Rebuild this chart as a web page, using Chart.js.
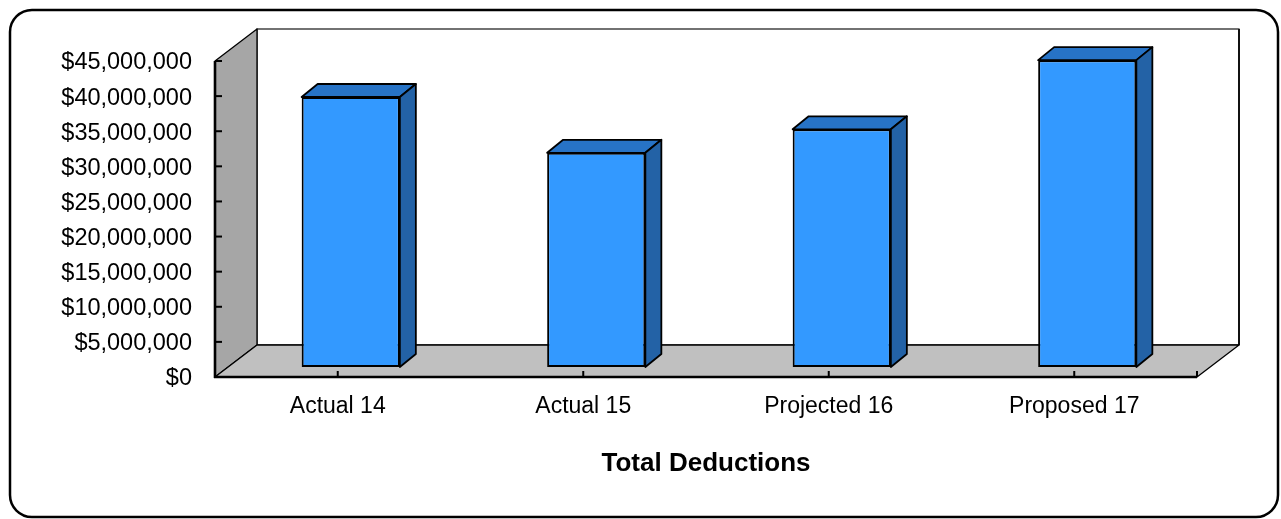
<!DOCTYPE html>
<html>
<head>
<meta charset="utf-8">
<title>Total Deductions</title>
<script src="https://cdn.jsdelivr.net/npm/chart.js"></script>
<style>
  html, body { margin: 0; padding: 0; background: #fff; }
  #wrap { width: 1281px; height: 519px; position: relative; }
</style>
</head>
<body>
<div id="wrap"><canvas id="graphicDeductions"></canvas></div>
<script>
// Datos del grafico
const categories = ["Actual 14", "Actual 15", "Projected 16", "Proposed 17"];
const deductions = [38450000, 30500000, 33850000, 43700000];
const yMax = 45000000;
const yStep = 5000000;

// 3D look: wall depth, bar offset from the front plane, bar depth
const wallDepth = { x: 42, y: 32 };
const barShift = { x: 13, y: 10 };
const barDepth = { x: 16, y: 13 };

const barFront = "#3399ff";
const barTop = "#2773c6";
const barSide = "#2362a6";

function polygon(ctx, pts, fill, stroke, width) {
  ctx.beginPath();
  ctx.moveTo(pts[0][0], pts[0][1]);
  for (let i = 1; i < pts.length; i++) ctx.lineTo(pts[i][0], pts[i][1]);
  ctx.closePath();
  if (fill) {
    ctx.fillStyle = fill;
    ctx.fill();
  }
  if (stroke) {
    ctx.strokeStyle = stroke;
    ctx.lineWidth = width;
    ctx.stroke();
  }
}

function line(ctx, x1, y1, x2, y2, width, color = "#000") {
  ctx.beginPath();
  ctx.moveTo(x1, y1);
  ctx.lineTo(x2, y2);
  ctx.strokeStyle = color;
  ctx.lineWidth = width;
  ctx.stroke();
}

const box3d = {
  id: "box3d",
  beforeDraw(chart) {
    const ctx = chart.ctx;
    // marco redondeado
    ctx.save();
    ctx.strokeStyle = "#000";
    ctx.lineWidth = 2.5;
    ctx.beginPath();
    ctx.roundRect(10, 10, 1268, 507, 22);
    ctx.stroke();
    ctx.restore();
  },
  beforeDatasetsDraw(chart) {
    const { ctx, chartArea: a, scales } = chart;
    const dx = wallDepth.x;
    const dy = wallDepth.y;
    ctx.save();
    ctx.lineJoin = "round";
    // back wall
    polygon(ctx, [[a.left + dx, a.top - dy], [a.right + dx, a.top - dy], [a.right + dx, a.bottom - dy], [a.left + dx, a.bottom - dy]], "#fff", "#444", 1.5);
    line(ctx, a.right + dx, a.top - dy, a.right + dx, a.bottom - dy, 2, "#111");
    // left wall
    polygon(ctx, [[a.left, a.top], [a.left + dx, a.top - dy], [a.left + dx, a.bottom - dy], [a.left, a.bottom]], "#a6a6a6", "#000", 1.3);
    // floor
    polygon(ctx, [[a.left, a.bottom], [a.left + dx, a.bottom - dy], [a.right + dx, a.bottom - dy], [a.right, a.bottom]], "#c0c0c0", "#000", 1.3);
    // front axes
    line(ctx, a.left, a.top, a.left, a.bottom + 1, 2.6);
    line(ctx, a.left - 1, a.bottom, a.right, a.bottom, 2.6);
    scales.y.ticks.forEach((t) => {
      const y = scales.y.getPixelForValue(t.value);
      line(ctx, a.left, y, a.left + 7, y, 2);
    });
    categories.forEach((c, i) => {
      const x = scales.x.getPixelForValue(i);
      line(ctx, x, a.bottom, x, a.bottom - 6, 2);
    });
    line(ctx, a.right, a.bottom, a.right, a.bottom - 6, 2);
    ctx.restore();

    // las barras se dibujan un poco hacia el fondo
    ctx.save();
    ctx.translate(barShift.x, -barShift.y);
  },
  afterDatasetsDraw(chart) {
    const ctx = chart.ctx;
    const bx = barDepth.x;
    const by = barDepth.y;
    ctx.lineJoin = "round";
    chart.getDatasetMeta(0).data.forEach((bar) => {
      const l = bar.x - bar.width / 2;
      const r = bar.x + bar.width / 2;
      const t = bar.y;
      const b = bar.base;
      polygon(ctx, [[l, t], [l + bx, t - by], [r + bx, t - by], [r, t]], barTop, "#000", 1.8);
      polygon(ctx, [[r, t], [r + bx, t - by], [r + bx, b - by], [r, b]], barSide, "#000", 1.8);
    });
    ctx.restore();
  },
};

function getGraphicDeductions() {
  Chart.defaults.font.family = "'Liberation Sans', Arial, sans-serif";
  Chart.defaults.color = "#000";
  const chrt = document.getElementById("graphicDeductions").getContext("2d");
  new Chart(chrt, {
    type: "bar",
    data: {
      labels: categories,
      datasets: [
        {
          label: "Total Deductions",
          data: deductions,
          backgroundColor: barFront,
          borderColor: "#000",
          borderWidth: 2,
          borderSkipped: false,
          barPercentage: 0.4,
          categoryPercentage: 1,
          clip: false,
        },
      ],
    },
    options: {
      responsive: true,
      maintainAspectRatio: false,
      animation: false,
      devicePixelRatio: 1,
      layout: {
        padding: { top: 61, right: 84, left: 0, bottom: 0 },
      },
      scales: {
        x: {
          grid: { display: false, drawTicks: false },
          border: { display: false },
          ticks: {
            font: { size: 23 },
            padding: 16,
            maxRotation: 0,
          },
          title: {
            display: true,
            text: "Total Deductions",
            font: { size: 26, weight: "bold" },
            padding: { top: 0, bottom: 40 },
          },
          afterFit(scale) {
            scale.height = 519 - 377;
          },
        },
        y: {
          min: 0,
          max: yMax,
          grid: { display: false, drawTicks: false },
          border: { display: false },
          ticks: {
            stepSize: yStep,
            font: { size: 23.5 },
            padding: 23,
            labelOffset: 2,
            callback: (v) => "$" + v.toLocaleString("en-US"),
          },
          afterFit(scale) {
            scale.width = 215;
          },
        },
      },
      plugins: {
        legend: { display: false },
        tooltip: { enabled: false },
      },
    },
    plugins: [box3d],
  });
}

getGraphicDeductions();
</script>
</body>
</html>
